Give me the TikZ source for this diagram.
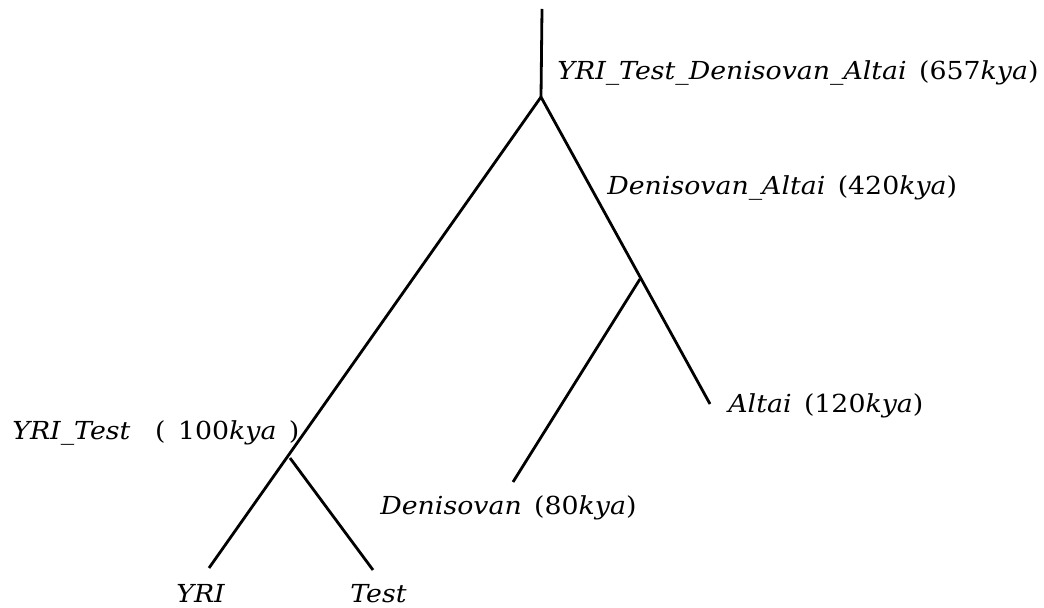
\documentclass[tikz,border=0pt]{standalone}
\usepackage{fontspec}
\setmainfont[FakeStretch=1.08]{DejaVu Serif}
\usetikzlibrary{positioning}

\begin{document}
\begin{tikzpicture} [x=0.5pt, y=-0.5pt,
            branch/.style = {line width=1.4pt},
            taxon/.style = {font=\fontsize{12.4}{14}\selectfont,
                inner sep=0pt, anchor=base west}]
        \useasboundingbox (0,0) rectangle (1044,608);

        % Split points
        \coordinate (top) at (542,9);
        \coordinate (root) at (541,97);
        \coordinate (da) at (640,279);
        \coordinate (yt) at (290,458);

        % Leaves
        \coordinate (yri) at (209,568);
        \coordinate (test) at (373,570);
        \coordinate (den) at (513,482);
        \coordinate (alt) at (710,404);

        % Branches
        \draw [branch] (top) -- (root);
        \draw [branch] (root) -- (yri);
        \draw [branch] (yt) -- (test);
        \draw [branch] (root) -- (alt);
        \draw [branch] (da) -- (den);

        % Labels
        \node (l-root) [taxon] at (557,80)
            {\textit{YRI\_Test\_Denisovan\_Altai}\enspace(657\textit{kya})};
        \node (l-da) [taxon] at (607,195)
            {\textit{Denisovan\_Altai}\enspace(420\textit{kya})};
        \node (l-alt) [taxon] at (728,413)
            {\textit{Altai}\enspace(120\textit{kya})};
        \node (l-den) [taxon] at (380,515)
            {\textit{Denisovan}\enspace(80\textit{kya})};
        \node (l-yt) [taxon] at (12,440)
            {\textit{YRI\_Test}\quad(\enspace100\textit{kya}\enspace)};
        \node (l-yri) [taxon] at (176,603) {\textit{YRI}};
        \node (l-test) [taxon] at (350,603) {\textit{Test}};
\end{tikzpicture}
\end{document}
